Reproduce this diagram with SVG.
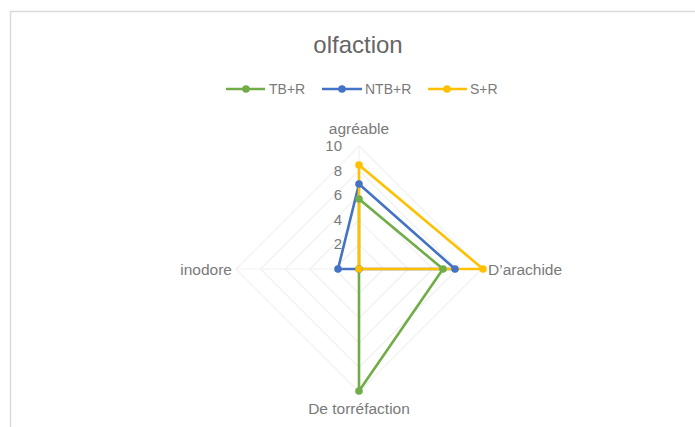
<svg xmlns="http://www.w3.org/2000/svg" width="695" height="427" viewBox="0 0 695 427">
  <style>
    .lbl { font-family: "Liberation Sans", Arial, sans-serif; fill: #7a7a7a; }
    .title { font-size: 24px; fill: #666666; }
    .cat { font-size: 15.5px; }
    .tick { font-size: 15px; }
    .leg { font-size: 14px; }
    .grid { fill: none; stroke: #f1f1f1; stroke-width: 1.2; }
    .spoke { stroke: #f1f1f1; stroke-width: 1.2; }
    .series { fill: none; stroke-width: 2.6; stroke-linejoin: round; }
    .tb { stroke: #70ad47; }
    .ntb { stroke: #4472c4; }
    .sr { stroke: #ffc000; }
    .tbf { fill: #70ad47; }
    .ntbf { fill: #4472c4; }
    .srf { fill: #ffc000; }
  </style>

  <!-- chart area frame -->
  <rect x="0" y="0" width="695" height="427" fill="#ffffff"/>
  <path d="M10.5 427 V11.5 H695" fill="none" stroke="#d9d9d9" stroke-width="1.5"/>

  <!-- title -->
  <text id="title" class="lbl title" x="358" y="53" text-anchor="middle">olfaction</text>

  <!-- legend -->
  <g id="legend">
    <g id="legend-tb">
      <line class="series tb" x1="226" y1="89" x2="265" y2="89"/>
      <circle class="tbf" cx="246" cy="89" r="3.8"/>
      <text class="lbl leg" x="269" y="94">TB+R</text>
    </g>
    <g id="legend-ntb">
      <line class="series ntb" x1="322" y1="89" x2="362" y2="89"/>
      <circle class="ntbf" cx="342" cy="89" r="3.8"/>
      <text class="lbl leg" x="365" y="94">NTB+R</text>
    </g>
    <g id="legend-sr">
      <line class="series sr" x1="428" y1="89" x2="467" y2="89"/>
      <circle class="srf" cx="447" cy="89" r="3.8"/>
      <text class="lbl leg" x="470" y="94">S+R</text>
    </g>
  </g>

  <!-- radar grid: centre (359,269), 12.3 px per unit -->
  <g id="grid">
    <polygon class="grid" points="359,244.4 383.6,269 359,293.6 334.4,269"/>
    <polygon class="grid" points="359,219.8 408.2,269 359,318.2 309.8,269"/>
    <polygon class="grid" points="359,195.2 432.8,269 359,342.8 285.2,269"/>
    <polygon class="grid" points="359,170.6 457.4,269 359,367.4 260.6,269"/>
    <polygon class="grid" points="359,146 482,269 359,392 236,269"/>
    <line class="spoke" x1="359" y1="269" x2="359" y2="146"/>
    <line class="spoke" x1="359" y1="269" x2="482" y2="269"/>
    <line class="spoke" x1="359" y1="269" x2="359" y2="392"/>
    <line class="spoke" x1="359" y1="269" x2="236" y2="269"/>
  </g>

  <!-- value axis labels -->
  <g id="axis-ticks">
    <text class="lbl tick" x="342" y="151" text-anchor="end">10</text>
    <text class="lbl tick" x="342" y="176" text-anchor="end">8</text>
    <text class="lbl tick" x="342" y="200" text-anchor="end">6</text>
    <text class="lbl tick" x="342" y="225" text-anchor="end">4</text>
    <text class="lbl tick" x="342" y="249" text-anchor="end">2</text>
  </g>

  <!-- category labels -->
  <g id="cat-agreable"><text class="lbl cat" x="359" y="134" text-anchor="middle">agréable</text></g>
  <g id="cat-arachide"><text class="lbl cat" x="488" y="275">D’arachide</text></g>
  <g id="cat-torrefaction"><text class="lbl cat" x="359" y="414" text-anchor="middle">De torréfaction</text></g>
  <g id="cat-inodore"><text class="lbl cat" x="232" y="275" text-anchor="end">inodore</text></g>

  <!-- data series -->
  <g id="connectors">
    <polygon id="series-tb" class="series tb" points="359,199 443,269 359,391 359,269"/>
    <polygon id="series-ntb" class="series ntb" points="359,184 455,269 359,269 338,269"/>
    <polygon id="series-sr" class="series sr" points="359,165 483,269 359,269 359,269"/>
  </g>

  <g id="markers-tb">
    <circle class="tbf" cx="359" cy="199" r="3.8"/>
    <circle class="tbf" cx="443" cy="269" r="3.8"/>
    <circle class="tbf" cx="359" cy="391" r="3.8"/>
    <circle class="tbf" cx="359" cy="269" r="3.8"/>
  </g>
  <g id="markers-ntb">
    <circle class="ntbf" cx="359" cy="184" r="3.8"/>
    <circle class="ntbf" cx="455" cy="269" r="3.8"/>
    <circle class="ntbf" cx="359" cy="269" r="3.8"/>
    <circle class="ntbf" cx="338" cy="269" r="3.8"/>
  </g>
  <g id="markers-sr">
    <circle class="srf" cx="359" cy="165" r="3.8"/>
    <circle class="srf" cx="483" cy="269" r="3.8"/>
    <circle class="srf" cx="359" cy="269" r="3.8"/>
  </g>
</svg>
